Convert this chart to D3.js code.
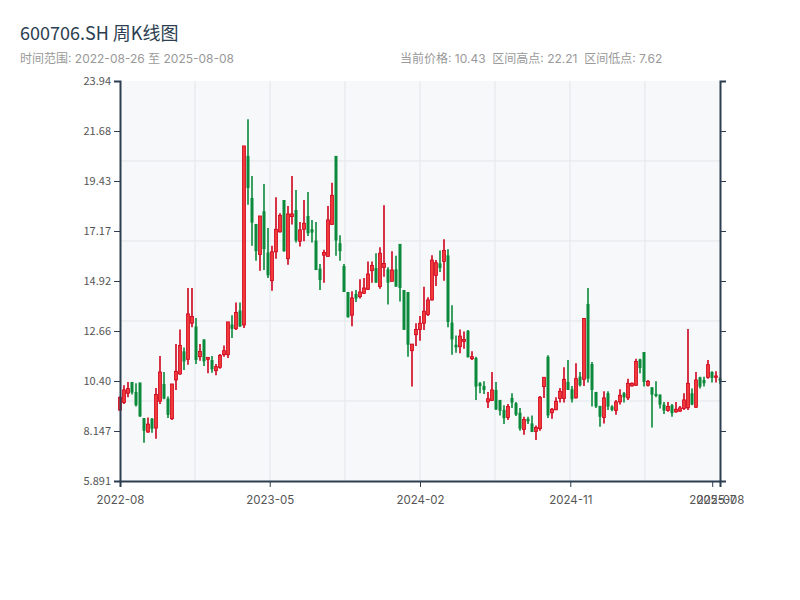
<!DOCTYPE html>
<html><head><meta charset="utf-8">
<script src="https://cdn.jsdelivr.net/npm/d3@7/dist/d3.min.js"></script>
<style>body{margin:0;background:#fff;} text{font-family:"Noto Sans CJK SC","Noto Sans",sans-serif;} .lat{font-family:Inter,"Noto Sans CJK SC",sans-serif;}</style>
</head><body><svg id="c" width="800" height="600"></svg>
<script>
const title = "600706.SH 周K线图";
const startDate = "2022-08-26", endDate = "2025-08-08";
const lastPrice = 10.43, periodHigh = 22.21, periodLow = 7.62;
const open  = [9.09,9.43,9.85,10.36,9.91,10.33,8.73,8.10,8.70,8.28,9.49,10.27,9.61,8.70,10.45,10.72,11.74,11.38,13.01,12.86,11.50,12.28,11.38,11.35,10.87,11.02,11.59,11.59,12.95,12.76,13.58,
 12.93,20.56,18.66,17.49,16.11,18.06,16.20,14.93,16.23,17.13,18.57,15.92,17.82,18.12,16.71,17.25,17.85,17.25,16.74,15.47,16.08,16.02,17.46,20.56,16.62,15.59,14.42,13.37,14.33,
 14.21,14.36,14.54,15.38,15.50,14.66,15.53,15.44,14.90,15.44,16.59,14.51,14.42,11.77,12.49,12.73,13.01,13.40,14.06,15.17,15.71,15.80,16.07,13.04,12.04,11.95,12.19,12.67,11.41,11.44,10.30,
 10.18,9.46,9.52,10.00,9.55,9.10,8.76,9.64,9.40,8.97,8.22,8.70,8.49,8.13,8.25,10.15,11.50,8.97,9.10,9.61,9.61,10.36,10.03,9.64,10.60,10.48,13.88,11.17,9.91,9.28,
 8.76,9.85,9.25,9.07,9.46,9.85,9.64,10.18,10.21,11.38,11.71,10.21,10.12,9.82,9.79,9.34,9.07,9.31,9.01,9.04,9.16,9.19,9.85,9.22,10.57,10.45,10.57,10.81,10.57,10.51];
const high  = [9.70,10.21,10.36,10.36,10.30,10.33,8.73,8.76,8.73,10.09,11.53,10.81,9.70,10.27,12.07,12.73,11.92,14.60,14.60,13.25,12.07,12.28,11.47,11.53,11.17,11.62,12.01,13.07,13.37,13.94,13.94,
 21.01,22.21,19.65,17.49,17.85,19.29,17.31,16.50,18.69,17.97,18.57,18.30,19.65,19.02,17.58,18.57,18.93,17.67,17.58,15.68,16.32,18.30,19.35,20.56,16.98,15.68,14.42,14.45,14.51,
 14.99,15.05,15.80,15.80,16.17,16.44,18.33,15.53,16.26,16.05,16.59,14.51,14.42,12.07,13.01,13.34,14.66,14.18,16.08,15.86,16.29,16.80,16.35,13.82,12.46,12.73,12.64,12.70,11.74,11.50,10.36,
 10.39,9.91,10.81,10.36,9.55,9.31,9.37,9.85,9.46,9.19,8.79,8.79,8.85,8.40,9.73,10.57,11.56,9.19,9.67,10.09,11.02,11.35,10.18,11.20,10.81,13.25,14.60,11.26,9.91,9.28,
 9.94,9.94,9.31,9.55,10.03,9.91,10.51,10.33,11.41,11.41,11.71,10.45,10.12,10.39,9.79,9.46,9.46,9.37,9.46,9.28,9.85,12.75,10.06,10.81,10.60,10.60,11.35,10.84,10.84,10.57];
const low   = [9.06,9.37,9.67,9.79,9.25,8.79,7.62,8.07,8.07,7.80,9.37,9.58,8.73,8.64,10.00,10.69,10.90,11.14,12.83,11.17,11.32,11.08,10.75,10.78,10.66,10.96,11.50,11.44,12.34,12.70,12.85,
 12.80,18.36,16.50,15.83,15.38,15.41,15.05,14.48,15.92,17.10,16.23,15.65,17.46,16.65,16.47,16.71,16.95,16.65,15.41,14.51,14.84,16.02,17.46,16.05,15.83,14.42,13.27,12.87,13.97,
 14.12,14.33,14.51,14.84,14.84,14.57,15.11,13.85,14.90,14.66,13.99,12.71,11.50,10.15,11.98,12.22,12.70,13.34,14.03,14.69,15.32,14.93,12.83,11.59,11.68,11.65,11.86,11.47,11.35,9.55,9.85,
 9.82,9.19,9.52,9.10,8.85,8.46,8.64,9.19,8.82,8.16,7.98,8.46,8.10,7.74,8.16,9.64,8.73,8.70,9.10,9.43,9.43,10.00,9.43,9.61,10.15,10.18,10.33,9.25,9.19,8.34,
 8.49,9.10,9.04,8.88,9.34,9.43,9.55,10.15,10.18,10.75,10.15,10.15,8.31,9.67,9.16,8.91,9.01,8.79,8.97,9.01,9.10,9.10,9.31,9.19,10.06,10.15,10.51,10.33,10.33,10.27];
const close = [9.67,10.00,10.06,9.88,9.31,8.80,8.16,8.46,8.25,9.79,10.81,9.61,8.88,10.27,10.84,12.01,11.29,13.43,13.31,11.35,11.74,11.29,11.47,10.93,11.05,11.56,11.77,13.07,12.76,13.49,12.86,
 21.01,19.11,17.55,16.26,17.85,16.35,15.17,16.23,17.25,17.88,16.26,17.94,17.94,16.74,17.22,17.52,17.07,17.10,15.41,14.96,16.20,17.67,18.78,16.74,16.26,14.42,13.28,14.15,14.12,
 14.42,14.60,15.23,15.62,14.84,16.17,15.71,14.84,15.41,14.66,14.60,12.71,12.04,12.07,12.73,13.01,13.55,14.06,15.86,15.74,15.50,16.29,13.07,12.28,11.92,12.43,12.28,11.47,11.50,10.15,10.18,
 10.00,9.60,10.00,9.12,9.06,8.73,9.25,9.43,8.88,8.25,8.67,8.58,8.10,8.31,9.67,10.57,8.85,9.13,9.49,9.94,10.48,10.00,9.58,10.51,10.21,13.22,10.51,10.00,9.25,8.79,
 9.64,9.25,9.10,9.46,9.76,9.67,10.30,10.30,11.29,10.99,10.36,10.39,9.79,9.73,9.34,9.07,9.25,8.95,9.13,9.19,9.55,10.30,9.34,10.45,10.15,10.30,11.14,10.54,10.63,10.43];
const xTickDates  = ["2022-08-26","2023-05-22","2024-02-16","2024-11-12","2025-07-25","2025-08-08"];

const svg = d3.select("#c");
const L = 120, R = 720, T = 81, B = 481;
const parse = d3.timeParse("%Y-%m-%d");
const n = open.length;
const x = d3.scaleLinear().domain([0, n - 1]).range([L, R]);
const xt = d3.scaleTime().domain([parse(startDate), parse(endDate)]).range([L, R]);
const range = periodHigh - periodLow, pad = range * 0.1185;
const y = d3.scaleLinear().domain([periodLow - pad, periodHigh + pad]).range([B, T]);
const yTicks = d3.range(9).map(i => y.domain()[0] + i * (y.domain()[1] - y.domain()[0]) / 8);

svg.append("rect").attr("x", L).attr("y", T).attr("width", R - L).attr("height", B - T).attr("fill", "#f6f8fa");
const g = svg.append("g");
d3.range(1, 8).forEach(i => g.append("line").attr("x1", L + i * (R - L) / 8).attr("x2", L + i * (R - L) / 8).attr("y1", T).attr("y2", B).attr("stroke", "#e3e6ea").attr("stroke-width", 1));
d3.range(1, 5).forEach(i => g.append("line").attr("x1", L).attr("x2", R).attr("y1", T + i * (B - T) / 5).attr("y2", T + i * (B - T) / 5).attr("stroke", "#e3e6ea").attr("stroke-width", 1));

const up = "#d0021b", upFill = "#f03a3a", dn = "#0a8a3a";
const idx = d3.range(n);
const cg = svg.append("g");
cg.selectAll("line.w").data(idx).join("line")
  .attr("x1", i => x(i)).attr("x2", i => x(i))
  .attr("y1", i => y(high[i])).attr("y2", i => y(low[i]))
  .attr("stroke", i => close[i] >= open[i] ? up : dn).attr("stroke-width", 1.6);
cg.selectAll("rect.b").data(idx).join("rect")
  .attr("x", i => x(i) - 1.5).attr("width", 3)
  .attr("y", i => y(Math.max(open[i], close[i])))
  .attr("height", i => Math.max(1, Math.abs(y(open[i]) - y(close[i]))))
  .attr("fill", i => close[i] >= open[i] ? upFill : dn)
  .attr("stroke", i => close[i] >= open[i] ? up : "none").attr("stroke-width", 0.8);

const axColor = "#2c3e50";
const styleAxis = sel => { sel.selectAll("path,line").attr("stroke", axColor); sel.select("path").attr("stroke-width", 2); sel.selectAll("text").attr("fill", "#555").attr("font-size", 11); };
svg.append("g").attr("transform", `translate(${L},0)`)
  .call(d3.axisLeft(y).tickValues(yTicks).tickFormat(d3.format(".4r"))).call(styleAxis);
svg.append("g").attr("transform", `translate(${R},0)`)
  .call(d3.axisRight(y).tickValues(yTicks).tickFormat("")).call(styleAxis);
svg.append("g").attr("transform", `translate(0,${B})`)
  .call(d3.axisBottom(xt).tickValues(xTickDates.map(parse)).tickFormat(d3.timeFormat("%Y-%m"))).call(styleAxis)
  .selectAll("text").attr("dy", "1.2em").attr("class", "lat").attr("font-size", 11.5);

svg.append("text").attr("x", 20).attr("y", 40).attr("font-size", 18).attr("fill", "#2c3e50").text(title);
svg.append("text").attr("class", "lat").attr("x", 20).attr("y", 63).attr("font-size", 12).attr("fill", "#999").text(`时间范围: ${startDate} 至 ${endDate}`);
svg.append("text").attr("class", "lat").attr("x", 400).attr("y", 63).attr("font-size", 12).attr("fill", "#999")
  .text(`当前价格: ${lastPrice.toFixed(2)}  区间高点: ${periodHigh.toFixed(2)}  区间低点: ${periodLow.toFixed(2)}`).attr("xml:space", "preserve");
</script></body></html>
